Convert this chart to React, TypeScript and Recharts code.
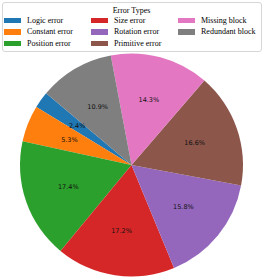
import React from 'react';
import { PieChart, Pie, Cell } from 'recharts';

const categories = ['Logic error', 'Constant error', 'Position error', 'Size error', 'Rotation error', 'Primitive error', 'Missing block', 'Redundant block'];
const values = [2.4, 5.3, 17.4, 17.2, 15.8, 16.6, 14.3, 10.9];
const colors = ['#1f77b4', '#ff7f0e', '#2ca02c', '#d62728', '#9467bd', '#8c564b', '#e377c2', '#7f7f7f'];
const legendTitle = 'Error Types';
const legendColumns = [[0, 1, 2], [3, 4, 5], [6, 7]];

const data = categories.map((name, i) => ({ name, value: values[i] }));

const RADIAN = Math.PI / 180;

const renderLabel = (props: any) => {
  const { cx, cy, midAngle, outerRadius, value } = props;
  const r = outerRadius * 0.6;
  const x = cx + r * Math.cos(-midAngle * RADIAN);
  const y = cy + r * Math.sin(-midAngle * RADIAN);
  return (
    <text x={x} y={y} textAnchor="middle" dominantBaseline="central" fill="#111" fontSize={6.5} fontFamily="DejaVu Sans">
      {value.toFixed(1) + '%'}
    </text>
  );
};

const colX = [4, 91, 178];
const rowY = [20.5, 32, 43.5];

export default function App() {
  return (
    <div style={{ position: 'fixed', left: 0, top: 0, width: 263, height: 279, background: '#fff' }}>
      <PieChart width={263} height={279} margin={{ top: 0, right: 0, bottom: 0, left: 0 }}>
        <Pie
          data={data}
          dataKey="value"
          nameKey="name"
          cx={131.5}
          cy={165}
          outerRadius={111.5}
          startAngle={140}
          endAngle={500}
          stroke="none"
          label={renderLabel}
          labelLine={false}
          isAnimationActive={false}
        >
          {data.map((d, i) => (
            <Cell key={d.name} fill={colors[i]} />
          ))}
        </Pie>
      </PieChart>
      <div
        style={{
          position: 'absolute',
          left: 1.5,
          top: 1.5,
          width: 258,
          height: 48,
          border: '1px solid #d6d6d6',
          borderRadius: 3,
          background: 'rgba(255,255,255,0.8)',
          fontFamily: '"Liberation Serif", serif',
          fontSize: 8,
          color: '#000',
        }}
      >
        <div style={{ position: 'absolute', left: 0, width: 258, top: 3.5, textAlign: 'center', lineHeight: '10px' }}>{legendTitle}</div>
        {legendColumns.map((col, ci) =>
          col.map((idx, ri) => (
            <div key={idx} style={{ position: 'absolute', left: colX[ci] - 2.5, top: rowY[ri] - 2.5 - 5, height: 10, display: 'flex', alignItems: 'center', whiteSpace: 'nowrap' }}>
              <span style={{ display: 'inline-block', width: 17, height: 5.5, background: colors[idx], marginRight: 6 }} />
              <span style={{ lineHeight: '10px' }}>{categories[idx]}</span>
            </div>
          ))
        )}
      </div>
    </div>
  );
}
